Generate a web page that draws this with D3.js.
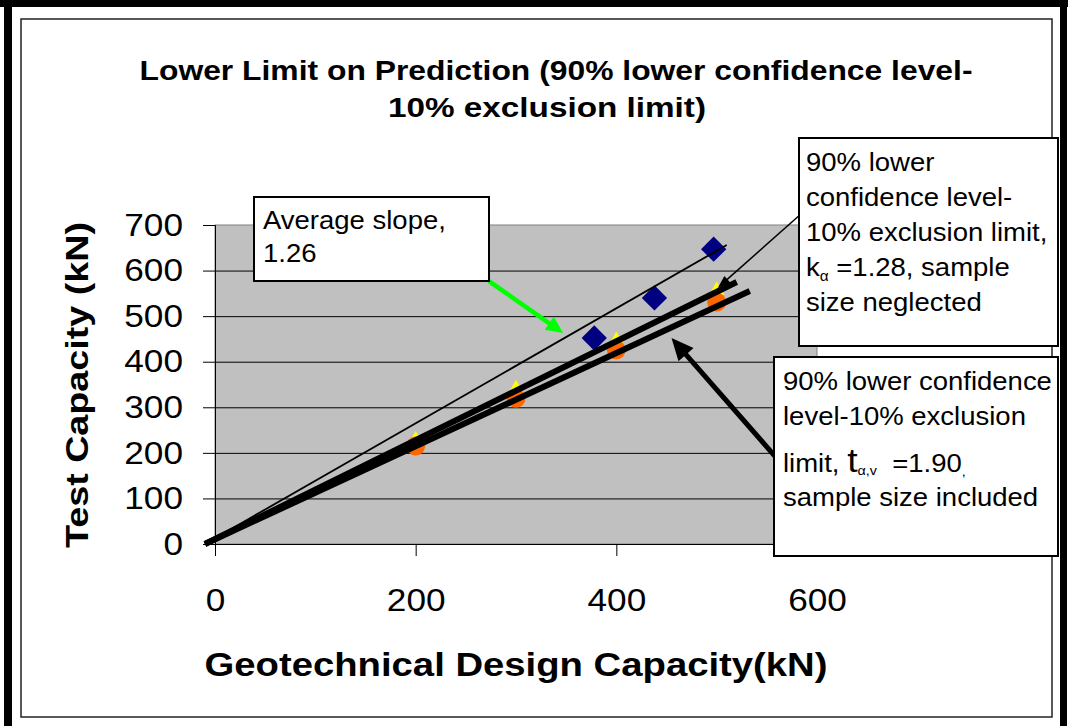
<!DOCTYPE html>
<html>
<head>
<meta charset="utf-8">
<script src="https://cdn.jsdelivr.net/npm/d3@7/dist/d3.min.js"></script>
<style>
  html, body { margin: 0; padding: 0; background: #fff; }
  svg { display: block; font-family: "Liberation Sans", Arial, sans-serif; }
</style>
</head>
<body>
<div id="chart"></div>
<script>
// ---- data (kN) ----
const xTicks = [0, 200, 400, 600];
const yTicks = [0, 100, 200, 300, 400, 500, 600, 700];

// measured test capacities (blue diamonds)
const testX = [378, 438, 497];
const testY = [452, 540, 647];

// lower limit points (orange circles)
const lowerX = [200, 300, 400, 500];
const lowerY = [215, 320, 426, 531];

// k-alpha points (yellow triangles, mostly hidden under the line)
const kPtsX = [200, 300, 400, 500];
const kPtsY = [228, 340, 446, 556];

// fitted lines, [x, y] end points
const avgLine = [[-10, 0], [510, 656]];   // average slope 1.26
const kLine = [[-10, 0], [520, 575]];     // k_alpha = 1.28
const tLine = [[-10, 0], [533, 555]];     // t_alpha,v = 1.90

const W = 1068, H = 726;
const svg = d3.select('#chart').append('svg')
  .attr('width', W)
  .attr('height', H);

svg.append('rect').attr('width', W).attr('height', H).attr('fill', '#fff');

// outer frame
svg.append('rect').attr('x', 0).attr('y', 0).attr('width', W).attr('height', 7).attr('fill', '#000');
svg.append('rect').attr('x', 4).attr('y', 0).attr('width', 8).attr('height', H).attr('fill', '#000');
svg.append('rect').attr('x', 1060).attr('y', 0).attr('width', 7).attr('height', H).attr('fill', '#000');
svg.append('rect')
  .attr('x', 21).attr('y', 19).attr('width', 1031).attr('height', 698)
  .attr('fill', 'none').attr('stroke', '#222').attr('stroke-width', 1.5);

const x = d3.scaleLinear().domain([0, 600]).range([215, 817]);
const y = d3.scaleLinear().domain([0, 700]).range([544, 225]);

// stretch text horizontally like the original picture
function stretch(sel, k) {
  sel.each(function () {
    const w = this.getComputedTextLength();
    d3.select(this).attr('textLength', w * k).attr('lengthAdjust', 'spacingAndGlyphs');
  });
}

// plot area
svg.append('rect')
  .attr('x', x(0)).attr('y', y(700))
  .attr('width', x(600) - x(0)).attr('height', y(0) - y(700))
  .attr('fill', '#c0c0c0').attr('stroke', '#808080').attr('stroke-width', 1);

svg.append('g')
  .attr('transform', `translate(${x(0)},0)`)
  .call(d3.axisLeft(y).tickValues(yTicks.filter(d => d > 0 && d < 700))
    .tickSize(-(x(600) - x(0))).tickFormat(''))
  .call(g => g.select('.domain').remove())
  .call(g => g.selectAll('line').attr('stroke', '#000').attr('stroke-width', 1));

// axes
const yAxis = svg.append('g')
  .attr('transform', `translate(${x(0)},0)`)
  .call(d3.axisLeft(y).tickValues(yTicks).tickSize(12).tickPadding(20));
yAxis.selectAll('text')
  .attr('font-family', '"Liberation Sans", Arial, sans-serif')
  .attr('font-size', 32).attr('fill', '#000')
  .call(stretch, 1.1);

const xAxis = svg.append('g')
  .attr('transform', `translate(0,${y(0)})`)
  .call(d3.axisBottom(x).tickValues(xTicks).tickSize(12).tickPadding(32));
xAxis.selectAll('text')
  .attr('font-family', '"Liberation Sans", Arial, sans-serif')
  .attr('font-size', 32).attr('fill', '#000')
  .call(stretch, 1.1);

[yAxis, xAxis].forEach(a => {
  a.selectAll('line').attr('stroke', '#000');
  a.select('.domain').attr('stroke', '#000');
});

// markers
const sq = d3.symbol().type(d3.symbolSquare).size(320);
svg.append('g').selectAll('path')
  .data(testX.map((v, i) => [v, testY[i]]))
  .join('path')
  .attr('d', sq)
  .attr('transform', d => `translate(${x(d[0])},${y(d[1])}) rotate(45)`)
  .attr('fill', '#000080');

const tri = d3.symbol().type(d3.symbolTriangle).size(110);
svg.append('g').selectAll('path')
  .data(kPtsX.map((v, i) => [v, kPtsY[i]]))
  .join('path')
  .attr('d', tri)
  .attr('transform', d => `translate(${x(d[0])},${y(d[1])})`)
  .attr('fill', '#ffff00');

svg.append('g').selectAll('circle')
  .data(lowerX.map((v, i) => [v, lowerY[i]]))
  .join('circle')
  .attr('cx', d => x(d[0]))
  .attr('cy', d => y(d[1]))
  .attr('r', 9.5)
  .attr('fill', '#ff6600');

// lines
const line = d3.line().x(d => x(d[0])).y(d => y(d[1]));
svg.append('path').datum(avgLine).attr('d', line)
  .attr('fill', 'none').attr('stroke', '#000').attr('stroke-width', 1.8);
svg.append('path').datum(kLine).attr('d', line)
  .attr('fill', 'none').attr('stroke', '#000').attr('stroke-width', 6);
svg.append('path').datum(tLine).attr('d', line)
  .attr('fill', 'none').attr('stroke', '#000').attr('stroke-width', 6);

// titles
const title = svg.append('g')
  .attr('font-weight', 'bold').attr('font-size', 28).attr('text-anchor', 'middle');
title.append('text').attr('x', 556).attr('y', 80)
  .attr('textLength', 833).attr('lengthAdjust', 'spacingAndGlyphs')
  .text('Lower Limit on Prediction (90% lower confidence level-');
title.append('text').attr('x', 547).attr('y', 117)
  .attr('textLength', 318).attr('lengthAdjust', 'spacingAndGlyphs')
  .text('10% exclusion limit)');

svg.append('text')
  .attr('x', 516).attr('y', 676)
  .attr('text-anchor', 'middle').attr('font-weight', 'bold').attr('font-size', 34)
  .attr('textLength', 623).attr('lengthAdjust', 'spacingAndGlyphs')
  .text('Geotechnical Design Capacity(kN)');

svg.append('text')
  .attr('transform', 'translate(88,385) rotate(-90)')
  .attr('text-anchor', 'middle').attr('font-weight', 'bold').attr('font-size', 31)
  .attr('textLength', 326).attr('lengthAdjust', 'spacingAndGlyphs')
  .text('Test Capacity (kN)');

// arrows
function arrow(from, to, color, width, headLen, headW) {
  const x1 = x(from[0]), y1 = y(from[1]), x2 = x(to[0]), y2 = y(to[1]);
  const a = Math.atan2(y2 - y1, x2 - x1);
  const bx = x2 - headLen * Math.cos(a), by = y2 - headLen * Math.sin(a);
  const px = Math.sin(a) * headW / 2, py = -Math.cos(a) * headW / 2;
  svg.append('line')
    .attr('x1', x1).attr('y1', y1).attr('x2', bx + Math.cos(a)).attr('y2', by + Math.sin(a))
    .attr('stroke', color).attr('stroke-width', width);
  svg.append('path')
    .attr('d', `M${x2},${y2}L${bx + px},${by + py}L${bx - px},${by - py}Z`)
    .attr('fill', color);
}
arrow([273, 577], [347, 463], '#00ff00', 4.5, 17, 16);
arrow([584, 724], [501, 562], '#000', 1.5, 13, 9);
arrow([558, 193], [455, 452], '#000', 5, 22, 20);

// annotation boxes
function box(x0, y0, w, h) {
  svg.append('rect').attr('x', x0).attr('y', y0).attr('width', w).attr('height', h)
    .attr('fill', '#fff').attr('stroke', '#000').attr('stroke-width', 2);
}
function textLine(x0, y0) {
  return svg.append('g')
    .attr('transform', `translate(${x0},${y0}) scale(1.1,1)`)
    .append('text')
    .attr('font-size', 25).attr('fill', '#000')
    .style('white-space', 'pre');
}

box(254, 197, 235, 84);
textLine(263, 229).text('Average slope,');
textLine(263, 262).text('1.26');

box(799, 138, 259, 208);
textLine(806, 171).text('90% lower');
textLine(806, 206).text('confidence level-');
textLine(806, 241).text('10% exclusion limit,');
const kt = textLine(806, 276);
kt.append('tspan').text('k');
kt.append('tspan').attr('font-size', 14).attr('dy', 5).text('\u03b1');
kt.append('tspan').attr('dy', -5).text(' =1.28, sample');
textLine(806, 311).text('size neglected');

box(774, 357, 284, 199);
textLine(783, 390).text('90% lower confidence');
textLine(783, 425).text('level-10% exclusion');
const tt = textLine(783, 472);
tt.append('tspan').text('limit, ');
tt.append('tspan').attr('font-size', 34).text('t');
tt.append('tspan').attr('font-size', 13).attr('dy', 3).text('\u03b1,v');
tt.append('tspan').attr('dy', -3).text('  =1.90');
tt.append('tspan').attr('font-size', 13).attr('dy', 4).text(',');
textLine(783, 506).text('sample size included');
</script>
</body>
</html>
